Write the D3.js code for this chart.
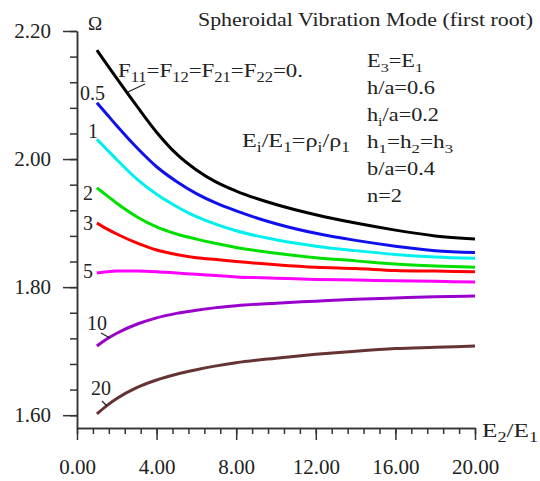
<!DOCTYPE html>
<meta charset="utf-8">
<head>
	<title>Spheroidal Vibration Mode</title>
	<style>
		body { margin: 0; background: #fff; }
		svg text { font-family: "Liberation Serif", "DejaVu Serif", "Noto Serif", serif; fill: #222; }
		.axis path, .axis line { stroke: #333; stroke-width: 1.5px; }
		.curve { fill: none; stroke-width: 3px; }
	</style>
</head>
<body>
	<div id="chart"></div>
</body>

<script src="https://cdnjs.cloudflare.com/ajax/libs/d3/7.8.5/d3.min.js"></script>

<script type="text/javascript">

	// E2/E1 values where the curves were sampled
	var ratios = [1, 1.5, 2, 3, 4, 5, 6, 7, 8, 10, 12, 14, 16, 18, 20];

	// Omega for each Ei/E1 = rho_i/rho_1 case
	var omegaF0  = [2.170, 2.148, 2.126, 2.083, 2.042, 2.008, 1.983, 1.964, 1.950, 1.929, 1.913, 1.900, 1.889, 1.880, 1.875];
	var omega05  = [2.088, 2.070, 2.052, 2.018, 1.988, 1.965, 1.946, 1.931, 1.919, 1.899, 1.884, 1.873, 1.864, 1.857, 1.854];
	var omega1   = [2.031, 2.015, 1.999, 1.969, 1.945, 1.926, 1.910, 1.898, 1.888, 1.874, 1.864, 1.857, 1.851, 1.847, 1.845];
	var omega2   = [1.955, 1.943, 1.931, 1.910, 1.894, 1.883, 1.875, 1.868, 1.862, 1.853, 1.846, 1.841, 1.836, 1.833, 1.831];
	var omega3   = [1.900, 1.891, 1.883, 1.869, 1.858, 1.851, 1.846, 1.843, 1.840, 1.835, 1.831, 1.829, 1.826, 1.825, 1.824];
	var omega5   = [1.822, 1.824, 1.825, 1.825, 1.824, 1.822, 1.820, 1.818, 1.816, 1.814, 1.812, 1.811, 1.810, 1.809, 1.808];
	var omega10  = [1.708, 1.719, 1.728, 1.742, 1.752, 1.759, 1.764, 1.768, 1.771, 1.775, 1.778, 1.781, 1.783, 1.785, 1.786];
	var omega20  = [1.602, 1.615, 1.626, 1.643, 1.655, 1.664, 1.671, 1.677, 1.682, 1.689, 1.695, 1.700, 1.704, 1.706, 1.708];

	var curveLabels = ["", "0.5", "1", "2", "3", "5", "10", "20"];
	var curveColors = ["#000000", "#1010ee", "#00f0f0", "#00e000", "#ff0000", "#ff00ff", "#9900cc", "#663333"];

	var xTicks = [0, 4, 8, 12, 16, 20];
	var yTicks = [1.60, 1.80, 2.00, 2.20];

	var width = 540;
	var height = 481;

	var svg = d3.select("#chart").append("svg")
		.attr("width", width)
		.attr("height", height);

	var x = d3.scaleLinear().domain([0, 20]).range([77, 475]);
	var y = d3.scaleLinear().domain([1.58, 2.20]).range([428, 31]);

	// minor ticks first, then the major ones with labels
	svg.append("g").attr("class", "axis")
		.attr("transform", "translate(0,428)")
		.call(d3.axisBottom(x).tickValues(d3.range(0, 20.01, 0.8)).tickSize(6).tickSizeOuter(0).tickFormat(""));
	svg.append("g").attr("class", "axis")
		.attr("transform", "translate(0,428)")
		.call(d3.axisBottom(x).tickValues(xTicks).tickSize(12).tickSizeOuter(0).tickPadding(19).tickFormat(d3.format(".2f")))
		.selectAll("text").attr("font-size", 21);

	svg.append("g").attr("class", "axis")
		.attr("transform", "translate(77,0)")
		.call(d3.axisLeft(y).tickValues(d3.range(1.60, 2.201, 0.04)).tickSize(7).tickSizeOuter(0).tickFormat(""));
	svg.append("g").attr("class", "axis")
		.attr("transform", "translate(77,0)")
		.call(d3.axisLeft(y).tickValues(yTicks).tickSize(14).tickSizeOuter(0).tickPadding(12).tickFormat(d3.format(".2f")))
		.selectAll("text").attr("font-size", 21);

	svg.selectAll(".axis .domain").attr("fill", "none");

	var series = [omegaF0, omega05, omega1, omega2, omega3, omega5, omega10, omega20];

	var line = d3.line()
		.x(function (d, i) { return x(ratios[i]); })
		.y(function (d) { return y(d); })
		.curve(d3.curveMonotoneX);

	svg.selectAll("path.curve")
		.data(series)
		.enter()
		.append("path")
		.attr("class", "curve")
		.attr("stroke", function (d, i) { return curveColors[i]; })
		.attr("d", line);

	// curve labels near the left end
	var labelPos = [null, [80, 100], [88, 138], [83, 200], [83, 230], [83, 278], [87, 330], [91, 395]];
	curveLabels.forEach(function (t, i) {
		if (!t) return;
		svg.append("text")
			.attr("x", labelPos[i][0]).attr("y", labelPos[i][1])
			.attr("font-size", 20)
			.text(t);
	});

	// leader lines
	svg.append("line").attr("x1", x(2.5)).attr("y1", y(2.104)).attr("x2", 145).attr("y2", 84)
		.attr("stroke", "#222").attr("stroke-width", 1.2);
	svg.append("line").attr("x1", 101).attr("y1", 333).attr("x2", 110).attr("y2", 338)
		.attr("stroke", "#222").attr("stroke-width", 1.2);
	svg.append("line").attr("x1", 102).attr("y1", 401).attr("x2", 107).attr("y2", 406)
		.attr("stroke", "#222").attr("stroke-width", 1.2);

	// text with subscripts: parts = [[text, isSub], ...]; len stretches it to the original width
	function richText(px, py, parts, size, len) {
		var t = svg.append("text").attr("x", px).attr("y", py).attr("font-size", size);
		var sub = false;
		parts.forEach(function (p) {
			var s = t.append("tspan").text(p[0]);
			if (p[1] && !sub) { s.attr("dy", 5).attr("font-size", size * 0.72); sub = true; }
			else if (p[1]) { s.attr("font-size", size * 0.72); }
			else if (sub) { s.attr("dy", -5); sub = false; }
		});
		if (len) t.attr("textLength", len).attr("lengthAdjust", "spacingAndGlyphs");
		return t;
	}

	svg.append("text").attr("x", 198).attr("y", 26).attr("font-size", 18)
		.attr("textLength", 335).attr("lengthAdjust", "spacingAndGlyphs")
		.text("Spheroidal Vibration Mode (first root)");
	svg.append("text").attr("x", 88).attr("y", 30).attr("font-size", 19).text("\u03A9");

	richText(118, 77, [["F"], ["11", 1], ["=F"], ["12", 1], ["=F"], ["21", 1], ["=F"], ["22", 1], ["=0."]], 19, 185);
	richText(242, 147, [["E"], ["i", 1], ["/E"], ["1", 1], ["=\u03C1"], ["i", 1], ["/\u03C1"], ["1", 1]], 19, 108);

	richText(367, 67, [["E"], ["3", 1], ["=E"], ["1", 1]], 18, 56);
	richText(367, 94, [["h/a=0.6"]], 18, 68);
	richText(367, 121, [["h"], ["i", 1], ["/a=0.2"]], 18, 72);
	richText(367, 148, [["h"], ["1", 1], ["=h"], ["2", 1], ["=h"], ["3", 1]], 18, 86);
	richText(367, 175, [["b/a=0.4"]], 18, 68);
	richText(367, 202, [["n=2"]], 18, 35);

	richText(482, 437, [["E"], ["2", 1], ["/E"], ["1", 1]], 19, 56);

</script>
</html>
